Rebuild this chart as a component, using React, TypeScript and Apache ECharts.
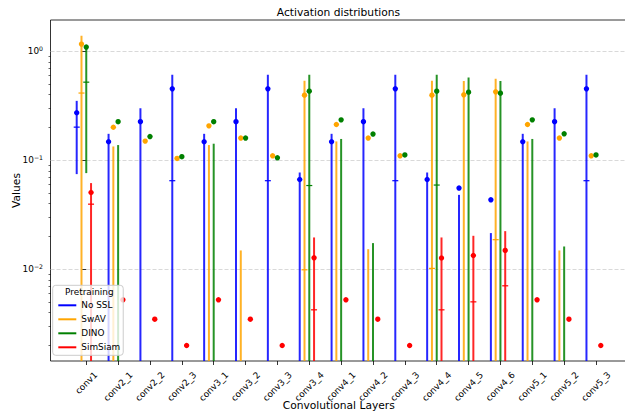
import React, { useEffect, useRef } from "react";
import * as echarts from "echarts";

const categories = [
  "conv1", "conv2_1", "conv2_2", "conv2_3", "conv3_1", "conv3_2", "conv3_3", "conv3_4",
  "conv4_1", "conv4_2", "conv4_3", "conv4_4", "conv4_5", "conv4_6", "conv5_1", "conv5_2", "conv5_3",
];

const seriesNames = ["No SSL", "SwAV", "DINO", "SimSiam"];
const seriesColors = ["#0000ff", "#ffa500", "#008000", "#ff0000"];
const seriesOffsets = [-0.3, -0.15, 0, 0.15];

// No SSL
const noSslMean = [0.273, 0.148, 0.226, 0.453, 0.148, 0.226, 0.453, 0.0667, 0.148, 0.226, 0.453, 0.0667, 0.0556, 0.0434, 0.148, 0.226, 0.453];
const noSslLow = [0.0747, 0, 0, 0, 0, 0, 0, 0, 0, 0, 0, 0, 0, 0, 0, 0, 0];
const noSslHigh = [0.351, 0.175, 0.301, 0.608, 0.175, 0.301, 0.608, 0.0773, 0.175, 0.301, 0.608, 0.0773, 0.0482, 0.0215, 0.175, 0.301, 0.608];
const noSslMedian = [0.2015, null, null, 0.065, null, null, 0.065, null, null, null, 0.065, null, null, null, null, null, 0.065];

// SwAV
const swavMean = [1.164, 0.201, 0.15, 0.104, 0.207, 0.16, 0.11, 0.396, 0.213, 0.16, 0.11, 0.396, 0.399, 0.425, 0.213, 0.16, 0.11];
const swavLow = [0, 0, null, null, 0, 0, null, 0, 0, 0, null, 0, 0, 0, 0, 0, null];
const swavHigh = [1.387, 0.134, null, null, 0.138, 0.0149, null, 0.536, 0.149, 0.0153, null, 0.536, 0.533, 0.56, 0.149, 0.0149, null];
const swavMedian = [0.414, null, null, null, null, null, null, 0.0099, null, null, null, 0.0102, null, 0.0187, null, null, null];

// DINO
const dinoMean = [1.093, 0.226, 0.165, 0.108, 0.226, 0.16, 0.1054, 0.431, 0.235, 0.174, 0.112, 0.431, 0.422, 0.413, 0.235, 0.175, 0.112];
const dinoLow = [0.0763, 0, null, null, 0, null, null, 0, 0, 0, null, 0, 0, 0, 0, 0, null];
const dinoHigh = [1.1, 0.138, null, null, 0.142, null, null, 0.608, 0.157, 0.0174, null, 0.608, 0.575, 0.533, 0.157, 0.0162, null];
const dinoMedian = [0.521, null, null, null, null, null, null, 0.0587, null, null, null, 0.0593, null, null, null, null, null];

// SimSiam
const simsiamMean = [0.0507, 0.00525, 0.00349, 0.002, 0.00525, 0.00349, 0.002, 0.01275, 0.00525, 0.00349, 0.002, 0.0127, 0.0134, 0.0149, 0.00525, 0.00349, 0.002];
const simsiamLow = [0, null, null, null, null, null, null, 0, null, null, null, 0, 0, 0, null, null, null];
const simsiamHigh = [0.0618, null, null, null, null, null, null, 0.0196, null, null, null, 0.0196, 0.0203, 0.0224, null, null, null];
const simsiamMedian = [0.0396, null, null, null, null, null, null, 0.00425, null, null, null, 0.00425, 0.00503, 0.00706, null, null, null];

const yTickValues = [0.01, 0.1, 1];
const yMinorTickValues = [
  0.002, 0.003, 0.004, 0.005, 0.006, 0.007, 0.008, 0.009,
  0.02, 0.03, 0.04, 0.05, 0.06, 0.07, 0.08, 0.09,
  0.2, 0.3, 0.4, 0.5, 0.6, 0.7, 0.8, 0.9,
];
const xTickValues = categories.map((_, i) => i);

const Y_MIN = 0.001442;
const Y_MAX = 1.937;
const X_MIN = -1.1225;
const X_MAX = 16.9725;
const FONT = "DejaVu Sans";

type Arr = (number | null)[];

function makeSeries(idx: number, mean: number[], low: Arr, high: Arr, median: Arr) {
  const color = seriesColors[idx];
  return {
    type: "custom",
    name: seriesNames[idx],
    xAxisIndex: 0,
    yAxisIndex: 0,
    itemStyle: { color },
    encode: { x: 0, y: 1 },
    clip: true,
    data: mean.map((m, i) => [i + seriesOffsets[idx], m]),
    renderItem: (params: any, api: any) => {
      const i = params.dataIndex;
      const x = api.value(0);
      const m = api.value(1);
      const children: any[] = [];
      const hi = high[i];
      const lo = low[i];
      const md = median[i];
      if (hi != null && lo != null) {
        const top = api.coord([x, hi]);
        const bot = api.coord([x, Math.max(lo, Y_MIN * 0.9)]);
        children.push({
          type: "line",
          shape: { x1: top[0], y1: top[1], x2: bot[0], y2: bot[1] },
          style: { stroke: color, lineWidth: 2, opacity: 0.85 },
        });
      }
      if (md != null) {
        const p = api.coord([x, md]);
        children.push({
          type: "line",
          shape: { x1: p[0] - 3, y1: p[1], x2: p[0] + 3, y2: p[1] },
          style: { stroke: color, lineWidth: 1.2 },
        });
      }
      const c = api.coord([x, m]);
      children.push({
        type: "circle",
        shape: { cx: c[0], cy: c[1], r: 2.7 },
        style: { fill: color },
      });
      return { type: "group", children };
    },
  };
}

export default function App() {
  const ref = useRef<HTMLDivElement>(null);
  useEffect(() => {
    if (!ref.current) return;
    const chart = echarts.init(ref.current, undefined, { renderer: "svg" });
    const supText = (v: number) => {
      const e = Math.round(Math.log10(v));
      const s = e < 0 ? "\u2212" + String(-e) : String(e);
      return `{b|10}{s|${s}}`;
    };
    chart.setOption({
      animation: false,
      backgroundColor: "#ffffff",
      textStyle: { fontFamily: FONT },
      title: {
        text: "Activation distributions",
        left: 338.5,
        top: 6.5,
        padding: 0,
        textAlign: "center",
        textStyle: { fontSize: 10.7, fontWeight: "normal", color: "#000", fontFamily: FONT },
      },
      grid: {
        left: 50.5,
        right: -2,
        top: 20,
        bottom: 54,
        outerBoundsMode: "none",
        containLabel: false,
        show: true,
        borderColor: "#000",
        borderWidth: 0.8,
        backgroundColor: "transparent",
      },
      legend: {
        data: seriesNames.map((n) => ({ name: n, icon: "rect" })),
        orient: "vertical",
        left: 52.7,
        top: 285.3,
        padding: [14.5, 3, 2.5, 5.6],
        itemWidth: 18,
        itemHeight: 2,
        itemGap: 3,
        backgroundColor: "rgba(255,255,255,0.8)",
        borderColor: "#cccccc",
        borderWidth: 1,
        borderRadius: 3,
        selectedMode: false,
        textStyle: { fontSize: 8.9, color: "#000", fontFamily: FONT, lineHeight: 11 },
      },
      graphic: [
        {
          type: "text",
          z: 100,
          x: 89.3,
          y: 292.3,
          style: {
            text: "Pretraining",
            fontSize: 8.9,
            fontFamily: FONT,
            fill: "#000",
            align: "center",
            verticalAlign: "middle",
          },
        },
      ],
      xAxis: {
        type: "value",
        min: X_MIN,
        max: X_MAX,
        axisLine: { show: false },
        splitLine: { show: false },
        axisTick: {
          show: true,
          customValues: xTickValues,
          length: 4,
          lineStyle: { color: "#000", width: 0.8 },
        },
        axisLabel: {
          customValues: xTickValues,
          rotate: 45,
          align: "center",
          verticalAlign: "middle",
          margin: 25.5,
          fontSize: 8.9,
          color: "#000",
          fontFamily: FONT,
          formatter: (v: number) => {
            const name = categories[Math.round(v)];
            return name.length < 7 ? `{s|${name}}` : `{n|${name}}`;
          },
          rich: {
            n: { fontSize: 8.9, fontFamily: FONT, color: "#000" },
            s: { fontSize: 8.9, fontFamily: FONT, color: "#000", padding: [0, 0, 5, 5] },
          },
        },
        name: "Convolutional Layers",
        nameLocation: "middle",
        nameGap: 39,
        nameMoveOverlap: false,
        nameTextStyle: { fontSize: 10.7, color: "#000", fontFamily: FONT },
      },
      yAxis: [
        {
          type: "log",
          logBase: 10,
          min: Y_MIN,
          max: Y_MAX,
          position: "left",
          axisLine: { show: false },
          axisTick: {
            show: true,
            customValues: yTickValues,
            length: 4,
            lineStyle: { color: "#000", width: 0.8 },
          },
          axisLabel: {
            customValues: yTickValues,
            margin: 7.5,
            color: "#000",
            fontFamily: FONT,
            formatter: supText,
            rich: {
              b: { fontSize: 8.9, fontFamily: FONT, color: "#000" },
              s: { fontSize: 6.2, fontFamily: FONT, color: "#000", padding: [0, 0, 6, 0] },
            },
          },
          splitLine: {
            show: true,
            interval: 0,
            lineStyle: { color: "#cfcfcf", type: [4, 2], width: 0.8 },
          },
          name: "Values",
          nameLocation: "middle",
          nameGap: 29,
          nameMoveOverlap: false,
          nameTextStyle: { fontSize: 10.7, color: "#000", fontFamily: FONT },
        },
        {
          type: "log",
          logBase: 10,
          min: Y_MIN,
          max: Y_MAX,
          position: "left",
          axisLine: { show: false },
          axisTick: {
            show: true,
            customValues: yMinorTickValues,
            length: 2,
            lineStyle: { color: "#000", width: 0.6 },
          },
          axisLabel: { show: false },
          splitLine: { show: false },
        },
      ],
      series: [
        makeSeries(0, noSslMean, noSslLow, noSslHigh, noSslMedian),
        makeSeries(1, swavMean, swavLow, swavHigh, swavMedian),
        makeSeries(2, dinoMean, dinoLow, dinoHigh, dinoMedian),
        makeSeries(3, simsiamMean, simsiamLow, simsiamHigh, simsiamMedian),
      ],
    });
    return () => chart.dispose();
  }, []);
  return (
    <div
      ref={ref}
      style={{ position: "fixed", left: 0, top: 0, width: 625, height: 415, background: "#fff" }}
    />
  );
}
